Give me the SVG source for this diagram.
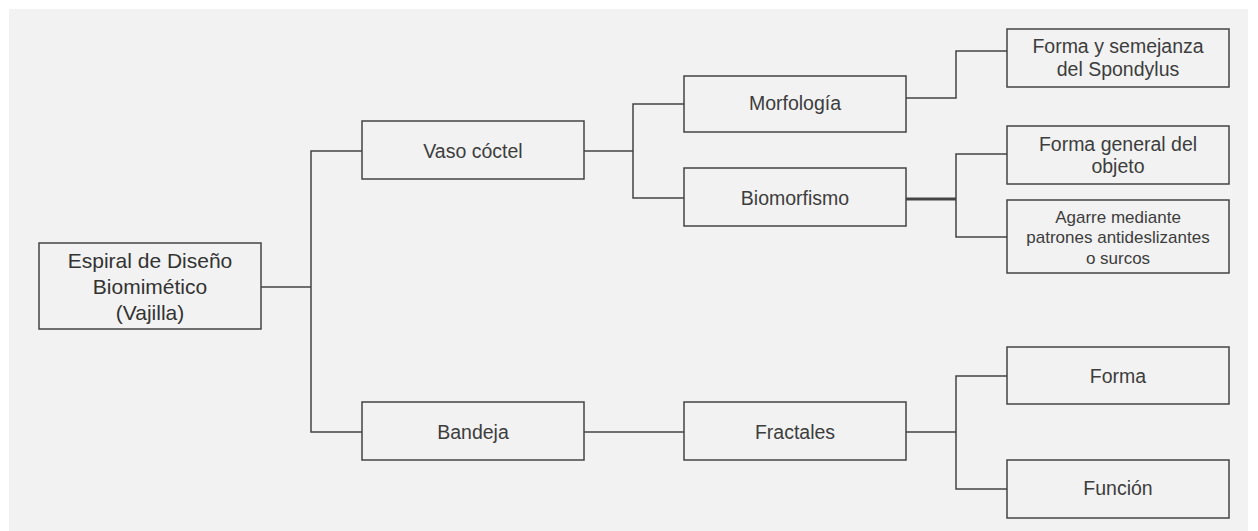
<svg xmlns="http://www.w3.org/2000/svg" width="1258" height="531" viewBox="0 0 1258 531">
<style>
.box{fill:none;stroke:#444;stroke-width:1.5}
.ln{fill:none;stroke:#444;stroke-width:1.5}
.t{font-family:"Liberation Sans",Arial,sans-serif;font-size:19.5px;fill:#3d3d3d;text-anchor:middle}
.r{font-size:21px;fill:#333}
.s{font-size:17px}
</style>
<rect x="0" y="0" width="1258" height="531" fill="#ffffff"/>
<rect x="9" y="9" width="1239" height="522" fill="#f2f2f2"/>
<g id="connectors">
<path class="ln" d="M261,287 H311 M362,151 H311 V432 H362"/>
<path class="ln" d="M584,151 H633 M684,104 H633 V198 H684"/>
<path class="ln" d="M906,98 H956 V51 H1007"/>
<path class="ln" d="M906,199 H956" style="stroke-width:3"/>
<path class="ln" d="M1007,154 H956 V237 H1007"/>
<path class="ln" d="M584,432 H684"/>
<path class="ln" d="M906,432 H956 M1007,376 H956 V489 H1007"/>
</g>
<g id="root"><rect class="box" x="39" y="243" width="222" height="86"/>
<text class="t r" x="150" y="268">Espiral de Diseño</text>
<text class="t r" x="150" y="294">Biomimético</text>
<text class="t r" x="150" y="320">(Vajilla)</text></g>
<g id="vaso"><rect class="box" x="362" y="121" width="222" height="58"/>
<text class="t" x="473" y="158">Vaso cóctel</text></g>
<g id="bandeja"><rect class="box" x="362" y="402" width="222" height="58"/>
<text class="t" x="473" y="439">Bandeja</text></g>
<g id="morfologia"><rect class="box" x="684" y="76" width="222" height="56"/>
<text class="t" x="795" y="110">Morfología</text></g>
<g id="biomorfismo"><rect class="box" x="684" y="168" width="222" height="58"/>
<text class="t" x="795" y="205">Biomorfismo</text></g>
<g id="fractales"><rect class="box" x="684" y="402" width="222" height="58"/>
<text class="t" x="795" y="439">Fractales</text></g>
<g id="forma-semejanza"><rect class="box" x="1007" y="29" width="222" height="58"/>
<text class="t" x="1118" y="53">Forma y semejanza</text>
<text class="t" x="1118" y="76">del Spondylus</text></g>
<g id="forma-general"><rect class="box" x="1007" y="126" width="222" height="58"/>
<text class="t" x="1118" y="151">Forma general del</text>
<text class="t" x="1118" y="173">objeto</text></g>
<g id="agarre"><rect class="box" x="1007" y="200" width="222" height="73"/>
<text class="t s" x="1118" y="223">Agarre mediante</text>
<text class="t s" x="1118" y="243">patrones antideslizantes</text>
<text class="t s" x="1118" y="264">o surcos</text></g>
<g id="forma"><rect class="box" x="1007" y="347" width="222" height="57"/>
<text class="t" x="1118" y="383">Forma</text></g>
<g id="funcion"><rect class="box" x="1007" y="460" width="222" height="58"/>
<text class="t" x="1118" y="495">Función</text></g>
</svg>
